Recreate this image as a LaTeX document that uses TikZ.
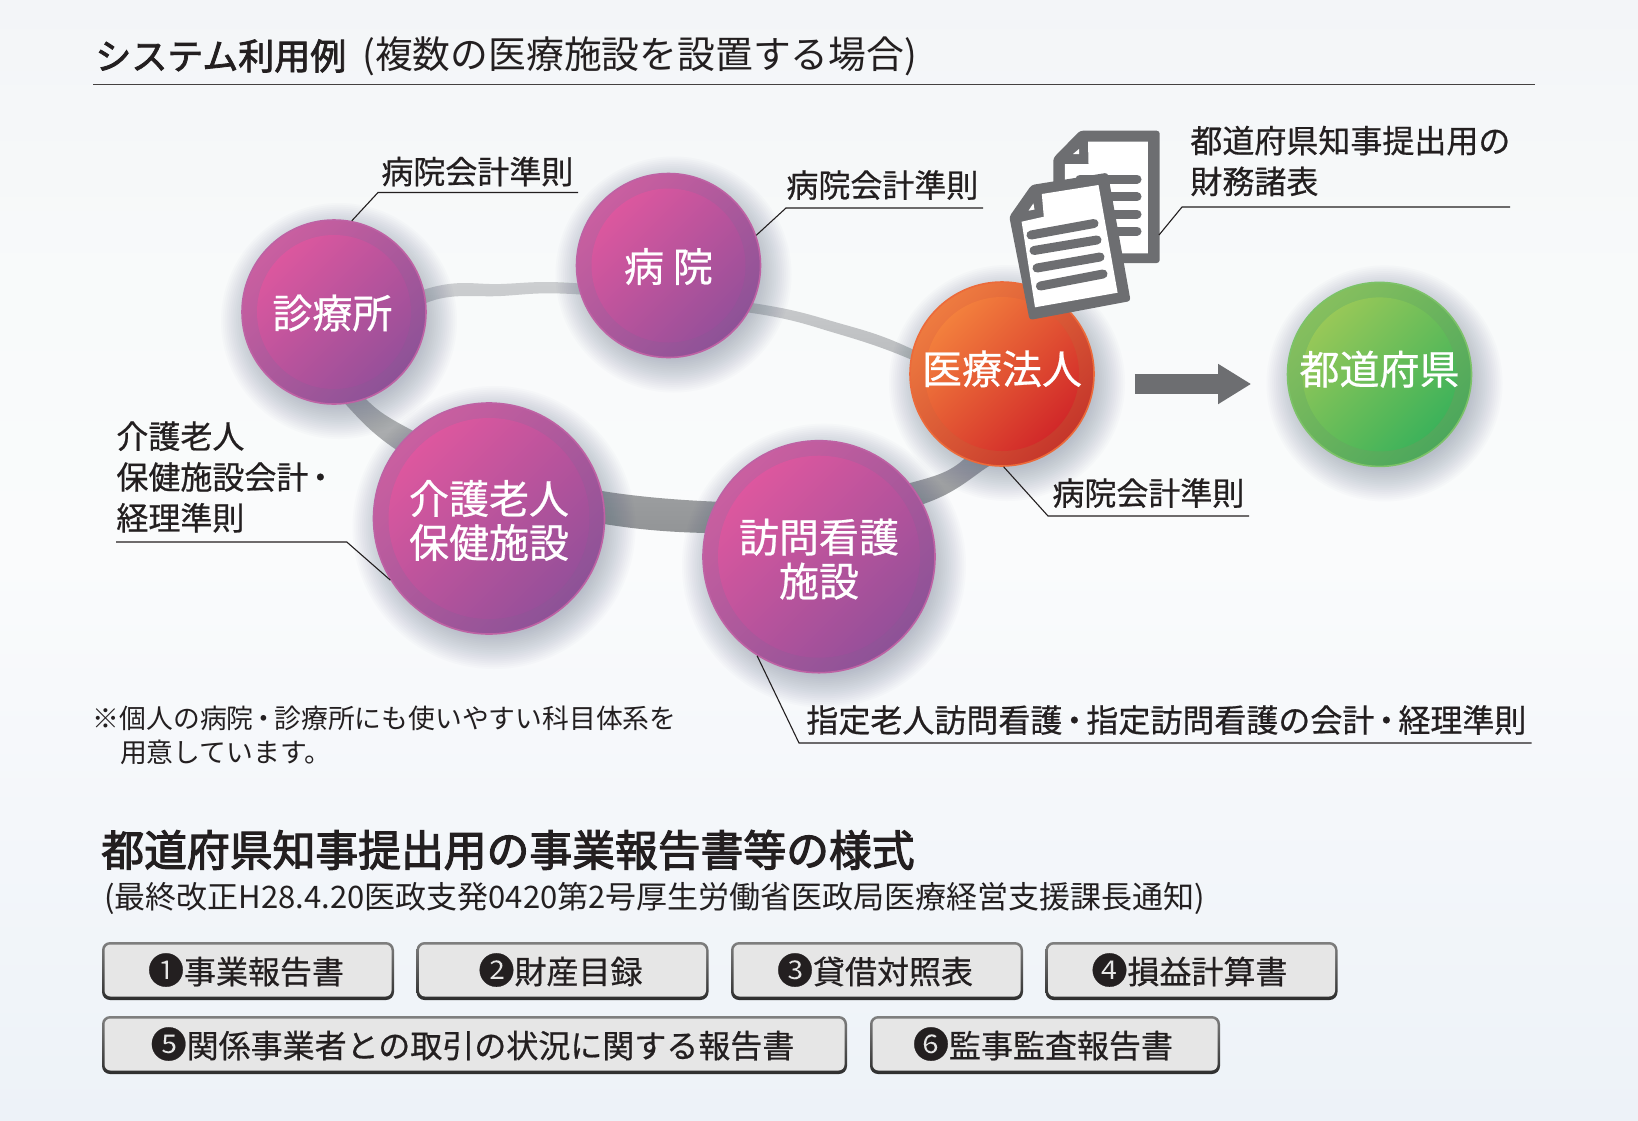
\documentclass[tikz,border=0pt]{standalone}
\usepackage{fontspec}
\usetikzlibrary{arrows.meta}
\setmainfont{Noto Sans CJK JP}
\newfontfamily\jpm[FakeBold=0.6]{Noto Sans CJK JP}
\newfontfamily\jpt[FakeBold=2.2]{Noto Sans CJK JP}
\newfontfamily\jph[FakeBold=2.6]{Noto Sans CJK JP}
\definecolor{iconc}{HTML}{6D6E71}
\definecolor{shadowc}{HTML}{55657F}
\definecolor{inkc}{HTML}{231F20}
\definecolor{btnfill}{HTML}{E6E6E6}
\definecolor{bga}{HTML}{F3F5F8}
\definecolor{bgb}{HTML}{F8FAFA}
\definecolor{bgc}{HTML}{FAFBFC}
\definecolor{bgd}{HTML}{EDF2F8}
\definecolor{ringa}{HTML}{CDCFD1}
\definecolor{ringb}{HTML}{929496}
\definecolor{btna}{HTML}{7F7F7F}
\definecolor{btnb}{HTML}{2E2E2E}
\definecolor{pka}{HTML}{CA5FA0}
\definecolor{pkb}{HTML}{8D5297}
\definecolor{pkc}{HTML}{BE62A4}
\definecolor{pkd}{HTML}{E2589F}
\definecolor{pke}{HTML}{914F99}
\definecolor{ora}{HTML}{EE7B40}
\definecolor{orb}{HTML}{C5362B}
\definecolor{orc}{HTML}{EC6A3A}
\definecolor{ord}{HTML}{F6883F}
\definecolor{ore}{HTML}{CE2027}
\definecolor{gra}{HTML}{86BF5E}
\definecolor{grb}{HTML}{4CA75C}
\definecolor{grc}{HTML}{7CC268}
\definecolor{grd}{HTML}{A0CA58}
\definecolor{gre}{HTML}{34B05A}
\tikzset{
  lbl/.style={anchor=west,inner sep=0pt,text=inkc,align=left,font=\jpm\fontsize{16}{20.4}\selectfont},
  balltext/.style={text=white,align=center,font=\jpm\fontsize{#1}{22}\selectfont},
  leader/.style={draw=inkc,line width=0.55pt},
  ball/.style n args={6}{circle,inner sep=0pt,minimum size=#1*0.5pt,left color=#2,right color=#3,shading angle=45,
    draw=#4,line width=0.8pt,
    path picture={\shade[left color=#5,right color=#6,shading angle=45] (path picture bounding box.center) circle ({#1*0.25pt-7.5pt});}},
  pinkball/.style={ball={#1}{pka}{pkb}{pkc}{pkd}{pke}},
  orangeball/.style={ball={#1}{ora}{orb}{orc}{ord}{ore}},
  greenball/.style={ball={#1}{gra}{grb}{grc}{grd}{gre}},
  btntext/.style={inner sep=0pt,text=inkc,font=\jpm\fontsize{16}{20}\selectfont},
}
\newcommand{\cnum}[1]{{\fontsize{18}{20}\selectfont #1}}
\newcommand{\nd}{\kern-2pt・\kern-2pt}
\newcommand{\mv}[2]{\raisebox{#1}[\height][\depth]{#2}}
\newcommand{\softshadow}[3]{\foreach \k in {0,...,17}{\fill[shadowc,opacity=0.022] (#1+5,#2+9) circle ({(#3+26-\k*1.9)*0.5pt});}}
\newcommand{\btn}[6]{%
  \shade[top color=btna,bottom color=btnb,rounded corners=4pt] (#1,#3) rectangle (#2,#4);
  \fill[btnfill,rounded corners=3pt] (#1+2.5,#3+2.5) rectangle (#2-2.5,#4-3.5);
  \node[btntext] (#5) at ({(#1+#2)/2-2},{(#3+#4)/2-1}) {#6};}
\begin{document}
\begin{tikzpicture}[x=0.5pt,y=-0.5pt]
\useasboundingbox (0,0) rectangle (1638,1120);
\shade[top color=bga,bottom color=bgc,middle color=bgb] (0,0) rectangle (1638,560);
\shade[top color=bgc,bottom color=bgd] (0,560) rectangle (1638,1120);

% title
\node[anchor=west,inner sep=0pt,text=inkc,font=\jpt\fontsize{18}{20}\selectfont] (t1) at (95,56) {システム利用例};
\node[anchor=west,inner sep=0pt,text=inkc,font=\fontsize{18.9}{20}\selectfont] (t2) at (362,56) {(複数の医療施設を設置する場合)};
\coordinate (ruleA) at (93,84.6);
\coordinate (ruleB) at (1534.5,84.6);
\draw[draw=inkc!85,line width=0.55pt] (ruleA) -- (ruleB);

% ring
\shade[top color=ringa,bottom color=ringb,even odd rule]
  plot[smooth cycle,tension=0.6] coordinates {(300,345) (426,289) (501,284) (580,283.5) (752,303) (835,322) (914,350) (1040,420) (983,470) (923.6,504) (816,530) (705,533) (604,524) (480,497) (393.7,448) (344.5,403)}
  plot[smooth cycle,tension=0.6] coordinates {(345,360) (426,303) (501,296) (580,294.5) (752,313) (835,333) (912,360) (1000,405) (963,460) (910,483) (816,500) (716.4,501.7) (602,491) (490,465) (411.5,430) (367,400)};

% circles
\softshadow{334}{312}{92}
\softshadow{668.5}{265.5}{92}
\softshadow{1002}{374}{92}
\softshadow{1379.5}{374.4}{92}
\softshadow{489}{518.5}{115.5}
\softshadow{819}{556.7}{116}
\node[pinkball=184,balltext=20] (clinic) at (334,312) {\kern-1.6pt\mv{-0.5pt}{診療所}};
\node[pinkball=184,balltext=20] (hosp) at (668.5,265.5) {\mv{-0.5pt}{病 院}};
\node[orangeball=184,balltext=20] (corp) at (1002,374) {\mv{2.6pt}{医療法人}};
\node[greenball=184,balltext=20] (pref) at (1379.5,374.4) {\mv{2.6pt}{都道府県}};
\node[pinkball=231,balltext=20] (care) at (489,518.5) {\mv{-1pt}{介護老人}\\\mv{-1pt}{保健施設}};
\node[pinkball=232,balltext=20] (visit) at (819,556.7) {\mv{-1.2pt}{訪問看護}\\\mv{-1.2pt}{施設}};

% arrow
\coordinate (arrA) at (1134.8,384);
\coordinate (arrB) at (1251.2,384);
\draw[draw=iconc,line width=10pt,-{Triangle[length=16.6pt,width=19pt]}] (arrA) -- (arrB);

% document icon
\fill[iconc,rounded corners=1.5pt] (1053.3,158) -- (1080,130.7) -- (1159.7,130.7) -- (1159.7,263) -- (1053.3,263) -- cycle;
\fill[white] (1064.8,164) -- (1088.5,164) -- (1088,141.7) -- (1147.9,141.7) -- (1147.9,253.3) -- (1064.8,253.3) -- cycle;
\fill[iconc] (1075,163.5) -- (1080,147) -- (1080,163.5) -- cycle;
\fill[white] (1073,154) -- (1079,149) -- (1079,154) -- cycle;
\foreach \yy in {179,196.7,214,231}{\draw[iconc,line width=4.5pt,line cap=round] (1080,\yy) -- (1137,\yy);}
\fill[iconc,rounded corners=1.5pt] (1009.3,216.7) -- (1031.5,185) -- (1107.7,172.7) -- (1130.6,301) -- (1029.6,320) -- cycle;
\fill[white] (1021.6,221.7) -- (1043.8,216.7) -- (1041.8,194) -- (1098.5,185) -- (1117.6,292.7) -- (1035,307.3) -- cycle;
\fill[white] (1028.5,210.7) -- (1033.4,203.3) -- (1034.5,209.5) -- cycle;
\draw[iconc,line width=4.5pt,line cap=round] (1031,235) -- (1094,223.5);
\draw[iconc,line width=4.5pt,line cap=round] (1034,250.5) -- (1097,240);
\draw[iconc,line width=4.5pt,line cap=round] (1037,268) -- (1100,257);
\draw[iconc,line width=4.5pt,line cap=round] (1040.4,286) -- (1103,274);

% labels and leaders
\node[lbl] (l1) at (381,171.5) {病院会計準則};
\coordinate (l1a) at (378,192.5); \coordinate (l1b) at (578,192.5);
\draw[leader] (clinic.79) -- (l1a) -- (l1b);
\node[lbl] (l2) at (786,185) {病院会計準則};
\coordinate (l2a) at (786,208); \coordinate (l2b) at (983,208);
\draw[leader] (hosp.19) -- (l2a) -- (l2b);
\node[lbl] (l3) at (1190,161) {都道府県知事提出用の\\財務諸表};
\coordinate (l3s) at (1159,235); \coordinate (l3a) at (1182,207); \coordinate (l3b) at (1510,207);
\draw[leader] (l3s) -- (l3a) -- (l3b);
\node[lbl] (l4) at (1052,493) {病院会計準則};
\coordinate (l4a) at (1048,516); \coordinate (l4b) at (1249,516);
\draw[leader] (corp.271) -- (l4a) -- (l4b);
\node[lbl] (l5) at (116,477) {介護老人\\保健施設会計\nd\\経理準則};
\coordinate (l5b) at (116,542); \coordinate (l5a) at (346.8,542);
\draw[leader] (care.212) -- (l5a) -- (l5b);
\node[lbl] (l6) at (806,720) {指定老人訪問看護\nd 指定訪問看護の会計\nd 経理準則};
\coordinate (l6a) at (799,743); \coordinate (l6b) at (1531.5,743);
\draw[leader] (visit.238) -- (l6a) -- (l6b);

\node[anchor=west,inner sep=0pt,text=inkc,align=left,font=\fontsize{13.4}{17}\selectfont] (note) at (92.5,735) {※個人の病院\kern-1.5pt・\kern-1.5pt 診療所にも使いやすい科目体系を\\\hspace{13.6pt}用意しています。};

% lower heading
\node[anchor=west,inner sep=0pt,text=inkc,font=\jph\fontsize{21.4}{24}\selectfont] (h1) at (101,850) {都道府県知事提出用の事業報告書等の様式};
\node[anchor=west,inner sep=0pt,text=inkc,font=\fontsize{15.5}{18}\selectfont] (h2) at (104,898) {(最終改正H28.4.20医政支発0420第2号厚生労働省医政局医療経営支援課長通知)};

% buttons
\btn{102}{394}{942}{1000}{b1}{\cnum{❶}事業報告書}
\btn{416.5}{708.5}{942}{1000}{b2}{\cnum{❷}財産目録}
\btn{731}{1023}{942}{1000}{b3}{\cnum{❸}貸借対照表}
\btn{1045.5}{1337.5}{942}{1000}{b4}{\cnum{❹}損益計算書}
\btn{102}{847}{1016}{1074}{b5}{\cnum{❺}関係事業者との取引の状況に関する報告書}
\btn{870}{1220}{1016}{1074}{b6}{\cnum{❻}監事監査報告書}
\end{tikzpicture}
\end{document}
